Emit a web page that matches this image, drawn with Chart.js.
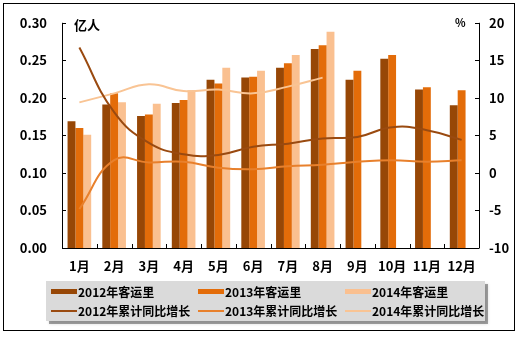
<!DOCTYPE html>
<html>
<head>
<meta charset="utf-8">
<script src="https://cdn.jsdelivr.net/npm/chart.js@4.4.1/dist/chart.umd.min.js"></script>
<style>
  html, body { margin: 0; padding: 0; background: #fff; }
  #wrap { position: relative; width: 521px; height: 337px; }
</style>
</head>
<body>
<div id="wrap"><canvas id="chart" width="521" height="337"></canvas></div>
<script>
var months = ['1月', '2月', '3月', '4月', '5月', '6月', '7月', '8月', '9月', '10月', '11月', '12月'];

// monthly passenger volume, 100 million people
var volume2012 = [0.169, 0.191, 0.176, 0.193, 0.224, 0.227, 0.240, 0.265, 0.224, 0.252, 0.211, 0.190];
var volume2013 = [0.160, 0.206, 0.178, 0.197, 0.219, 0.228, 0.246, 0.270, 0.236, 0.257, 0.214, 0.210];
var volume2014 = [0.151, 0.194, 0.192, 0.210, 0.240, 0.236, 0.257, 0.288, null, null, null, null];

// cumulative year-on-year growth, %
var growth2012 = [16.7, 8.1, 4.0, 2.5, 2.4, 3.5, 3.9, 4.6, 4.8, 6.1, 5.7, 4.4];
var growth2013 = [-4.8, 1.7, 1.4, 1.5, 0.7, 0.5, 0.9, 1.1, 1.5, 1.7, 1.5, 1.7];
var growth2014 = [9.4, 10.6, 11.8, 10.9, 11.1, 10.6, 11.5, 12.7, null, null, null, null];

var leftTicks = [0, 0.05, 0.10, 0.15, 0.20, 0.25, 0.30];
var rightTicks = [-10, -5, 0, 5, 10, 15, 20];

var FONT = '"Noto Sans CJK SC", "DejaVu Sans", sans-serif';

function bar(label, data, color) {
    return { type: 'bar', label: label, data: data, backgroundColor: color, yAxisID: 'y', order: 2 };
}
function line(label, data, color) {
    return {
        type: 'line', label: label, data: data, borderColor: color, backgroundColor: color,
        borderWidth: 2, pointRadius: 0, tension: 0.45, yAxisID: 'y1', order: 1, fill: false
    };
}

// frame, inside tick marks, unit labels and a boxed legend in three columns
var decorations = {
    id: 'decorations',
    afterDraw: function(chart) {
        var ctx = chart.ctx;
        var a = chart.chartArea;
        var y = chart.scales.y, y1 = chart.scales.y1;
        ctx.save();

        ctx.strokeStyle = '#000';
        ctx.lineWidth = 1;
        ctx.beginPath();
        ctx.moveTo(Math.round(a.left) + 0.5, a.top);
        ctx.lineTo(Math.round(a.left) + 0.5, a.bottom + 0.5);
        ctx.lineTo(a.right, a.bottom + 0.5);
        ctx.moveTo(Math.round(a.right) + 0.5, a.top);
        ctx.lineTo(Math.round(a.right) + 0.5, a.bottom + 0.5);
        leftTicks.forEach(function(v) {
            var py = Math.round(y.getPixelForValue(v)) + 0.5;
            ctx.moveTo(a.left, py); ctx.lineTo(a.left + 4, py);
        });
        rightTicks.forEach(function(v) {
            var py = Math.round(y1.getPixelForValue(v)) + 0.5;
            ctx.moveTo(a.right, py); ctx.lineTo(a.right - 4, py);
        });
        var step = (a.right - a.left) / months.length;
        for (var i = 1; i < months.length; i++) {
            var px = Math.round(a.left + i * step) + 0.5;
            ctx.moveTo(px, a.bottom); ctx.lineTo(px, a.bottom - 4);
        }
        ctx.stroke();

        // outer frame
        ctx.strokeRect(3.5, 3.5, 511, 327);

        ctx.fillStyle = '#000';
        ctx.font = 'bold 13px ' + FONT;
        ctx.textBaseline = 'middle';
        ctx.textAlign = 'left';
        ctx.fillText('亿人', a.left + 12, a.top + 2);
        ctx.font = 'bold 11px ' + FONT;
        ctx.fillText('%', a.right - 24, a.top);

        // legend box with drop shadow
        var bx = 46, by = 281, bw = 439, bh = 40;
        ctx.fillStyle = 'rgba(0,0,0,0.35)';
        ctx.shadowColor = 'rgba(0,0,0,0.4)';
        ctx.shadowBlur = 3;
        ctx.fillRect(bx + 3, by + 3, bw, bh);
        ctx.shadowColor = 'transparent';
        ctx.shadowBlur = 0;
        ctx.fillStyle = '#dadada';
        ctx.fillRect(bx, by, bw, bh);

        var cols = [51, 198, 345];
        var rows = [292, 311];
        ctx.font = 'bold 12px ' + FONT;
        chart.data.datasets.forEach(function(ds, k) {
            var cx = cols[k % 3], cy = rows[Math.floor(k / 3)];
            ctx.fillStyle = ds.backgroundColor;
            if (ds.type === 'bar') {
                ctx.fillRect(cx, cy - 3, 26, 5);
            } else {
                ctx.fillRect(cx, cy - 1, 26, 2);
            }
            ctx.fillStyle = '#000';
            ctx.fillText(ds.label, cx + 27, cy);
        });
        ctx.restore();
    }
};

new Chart(document.getElementById('chart'), {
    data: {
        labels: months,
        datasets: [
            bar('2012年客运里', volume2012, '#974706'),
            bar('2013年客运里', volume2013, '#E36C09'),
            bar('2014年客运里', volume2014, '#FAC090'),
            line('2012年累计同比增长', growth2012, '#9A4A10'),
            line('2013年累计同比增长', growth2013, '#E8802C'),
            line('2014年累计同比增长', growth2014, '#F9C494')
        ]
    },
    options: {
        responsive: false,
        animation: false,
        events: [],
        layout: { padding: { left: 0, right: 0, top: 19, bottom: 0 } },
        datasets: { bar: { categoryPercentage: 0.68, barPercentage: 1.0 } },
        plugins: { legend: { display: false }, tooltip: { enabled: false } },
        scales: {
            x: {
                grid: { display: false, drawTicks: false },
                border: { display: false },
                ticks: { color: '#000', font: { family: FONT, size: 13, weight: 'bold' }, padding: 10, maxRotation: 0 },
                afterFit: function(scale) { scale.height = 89; }
            },
            y: {
                position: 'left',
                min: 0, max: 0.30,
                afterBuildTicks: function(scale) {
                    scale.ticks = leftTicks.map(function(v) { return { value: v }; });
                },
                grid: { display: false, drawTicks: false },
                border: { display: false },
                ticks: {
                    color: '#000', font: { family: FONT, size: 13, weight: 'bold' }, padding: 15,
                    callback: function(v) { return v.toFixed(2); }
                },
                afterFit: function(scale) { scale.width = 62; }
            },
            y1: {
                position: 'right',
                min: -10, max: 20,
                afterBuildTicks: function(scale) {
                    scale.ticks = rightTicks.map(function(v) { return { value: v }; });
                },
                grid: { display: false, drawTicks: false },
                border: { display: false },
                ticks: { color: '#000', font: { family: FONT, size: 13, weight: 'bold' }, padding: 10 },
                afterFit: function(scale) { scale.width = 42; }
            }
        }
    },
    plugins: [decorations]
});
</script>
</body>
</html>
